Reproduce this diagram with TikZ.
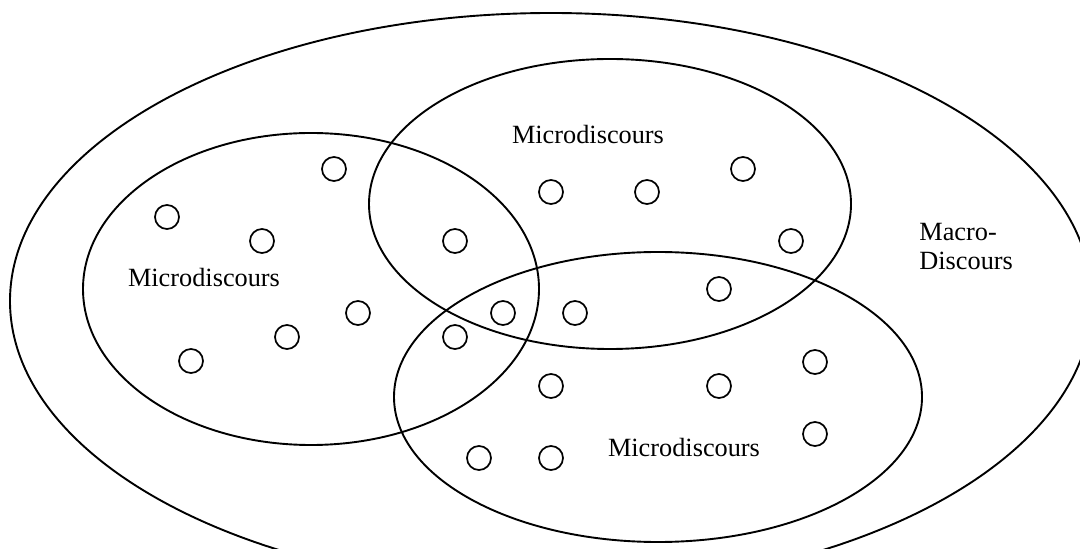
\documentclass[tikz,border=0pt]{standalone}
\usepackage{fontspec}
\setmainfont{Liberation Serif}
\begin{document}
\begin{tikzpicture}[x=0.5pt,y=-0.5pt,
  ring/.style={draw,line width=0.95pt},
  dot/.style={draw,circle,line width=0.85pt,minimum size=12pt,inner sep=0pt},
  lbl/.style={font=\fontsize{13.15pt}{15pt}\selectfont,inner sep=0pt,anchor=base}]
\fill[white] (0,0) rectangle (1080,549);
\useasboundingbox (0,0) rectangle (1080,549);
% outer macro-discourse ellipse (cut by the bottom edge)
\begin{scope}
  \clip (0,0) rectangle (1080,549);
  \draw[ring] (551,301) ellipse [x radius=270.5pt, y radius=144pt];
\end{scope}
% three micro-discourse ellipses
\draw[ring] (311,289) ellipse [x radius=114pt, y radius=78pt];
\draw[ring] (610,204) ellipse [x radius=120.5pt, y radius=72.5pt];
\draw[ring] (658,397) ellipse [x radius=132pt, y radius=72.5pt];
% labels
\node[lbl] (lleft) at (204,287) {Microdiscours};
\node[lbl] (ltop) at (588,144) {Microdiscours};
\node[lbl] (lbot) at (684,457) {Microdiscours};
\node[lbl,anchor=base west] (lmac1) at (919,241) {Macro-};
\node[lbl,anchor=base west] (lmac2) at (919,270) {Discours};
% small circles
\node[dot] (c1) at (334,169) {};
\node[dot] (c2) at (167,217) {};
\node[dot] (c3) at (262,241) {};
\node[dot] (c4) at (358,313) {};
\node[dot] (c5) at (287,337) {};
\node[dot] (c6) at (191,361) {};
\node[dot] (c7) at (455,241) {};
\node[dot] (c8) at (503,313) {};
\node[dot] (c9) at (455,337) {};
\node[dot] (c10) at (575,313) {};
\node[dot] (c11) at (551,192) {};
\node[dot] (c12) at (647,192) {};
\node[dot] (c13) at (743,169) {};
\node[dot] (c14) at (791,241) {};
\node[dot] (c15) at (719,289) {};
\node[dot] (c16) at (551,386) {};
\node[dot] (c17) at (719,386) {};
\node[dot] (c18) at (815,362) {};
\node[dot] (c19) at (815,434) {};
\node[dot] (c20) at (479,458) {};
\node[dot] (c21) at (551,458) {};
\end{tikzpicture}
\end{document}
